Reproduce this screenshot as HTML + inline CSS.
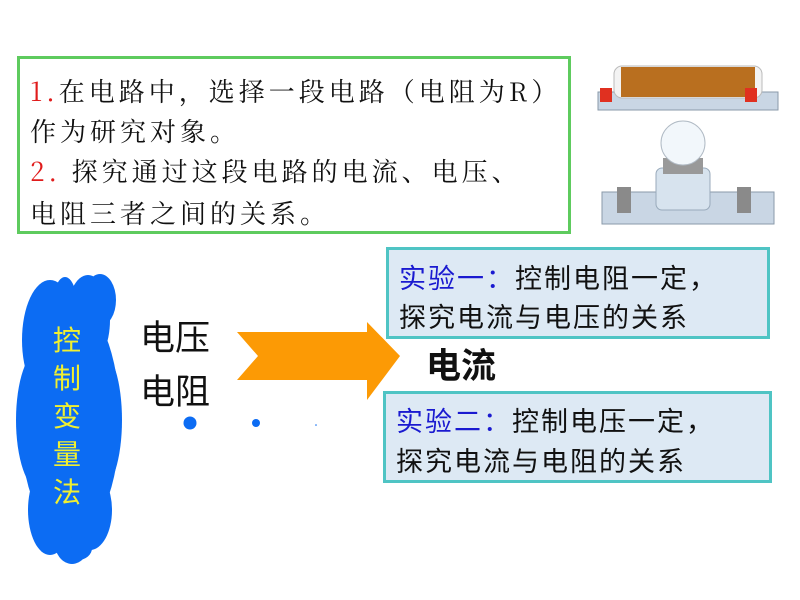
<!DOCTYPE html>
<html><head><meta charset="utf-8"><style>
body{margin:0;width:800px;height:600px;background:#fff;position:relative;overflow:hidden;font-family:"Liberation Sans","Noto Sans CJK SC",sans-serif}
.a{position:absolute;white-space:nowrap}
.box1{position:absolute;left:17px;top:56px;width:548px;height:172px;border:3px solid #5ecb5e}
.t{position:absolute;left:10px;font-size:26px;letter-spacing:4px;color:#111;font-family:"Noto Serif CJK SC","Liberation Serif",serif}
.r{color:#e01b1b}
.bx{position:absolute;border:3px solid #4fc4c4;background:#dde9f4}
.bx div{position:absolute;left:10px;font-size:27px;letter-spacing:2px;color:#111}
.bl{color:#1a1ad0}
</style></head><body>
<div class="box1">
<div class="t" style="top:13px"><span class="r">1.</span>在电路中，选择一段电路（电阻为R）</div>
<div class="t" style="top:53px">作为研究对象。</div>
<div class="t" style="top:93px"><span class="r">2.</span>&nbsp;探究通过这段电路的电流、电压、</div>
<div class="t" style="top:135px">电阻三者之间的关系。</div>
</div>

<svg class="a" style="left:0;top:0" width="800" height="600">
<g fill="#0c6cf3">
<ellipse cx="70" cy="420" rx="50" ry="120"/>
<ellipse cx="50" cy="340" rx="28" ry="60"/>
<ellipse cx="88" cy="320" rx="22" ry="45"/>
<ellipse cx="100" cy="300" rx="16" ry="26"/>
<ellipse cx="65" cy="305" rx="12" ry="28"/>
<ellipse cx="40" cy="420" rx="24" ry="70"/>
<ellipse cx="100" cy="420" rx="22" ry="70"/>
<ellipse cx="50" cy="510" rx="22" ry="45"/>
<ellipse cx="90" cy="510" rx="22" ry="40"/>
<ellipse cx="72" cy="540" rx="18" ry="24"/>
<ellipse cx="78" cy="548" rx="14" ry="12"/>
</g>
<path d="M237,332 L367,332 L367,322 L400,356 L367,400 L367,380 L237,380 L258,356 Z" fill="#fc9a05"/>
<circle cx="190" cy="423" r="6.5" fill="#0c6cf3"/>
<circle cx="256" cy="423" r="4" fill="#0c6cf3"/>
<circle cx="316" cy="425" r="0.8" fill="#0c6cf3"/>
<rect x="598" y="92" width="180" height="18" fill="#c9d6e4" stroke="#8a9aaa"/>
<rect x="614" y="66" width="148" height="32" rx="8" fill="#f3f3f3" stroke="#bbb"/>
<rect x="621" y="67" width="134" height="30" fill="#b96f1f"/>
<rect x="600" y="88" width="12" height="14" fill="#e03020"/>
<rect x="745" y="88" width="12" height="14" fill="#e03020"/>
<rect x="602" y="192" width="172" height="32" fill="#c9d6e4" stroke="#8a9aaa"/>
<rect x="656" y="168" width="54" height="42" rx="6" fill="#d7e3ee" stroke="#9ab"/>
<rect x="663" y="158" width="40" height="16" fill="#999"/>
<circle cx="683" cy="143" r="22" fill="#f2f7fb" stroke="#b0bac4"/>
<rect x="617" y="187" width="14" height="26" fill="#8a8a8a"/>
<rect x="737" y="187" width="14" height="26" fill="#8a8a8a"/>
</svg>

<div class="a" style="left:53px;top:322px;font-size:28px;line-height:38px;color:#f0f030;width:30px;white-space:normal">控制变量法</div>
<div class="a" style="left:140px;top:312px;font-size:35px;line-height:54px;color:#111;white-space:normal;width:80px">电压 电阻</div>

<div class="bx" style="left:386px;top:247px;width:378px;height:86px">
<div style="top:7px"><span class="bl">实验一：</span>控制电阻一定，</div>
<div style="top:46px">探究电流与电压的关系</div>
</div>
<div class="a" style="left:426px;top:338px;font-size:35px;font-weight:bold;color:#111">电流</div>
<div class="bx" style="left:383px;top:391px;width:383px;height:86px">
<div style="top:6px"><span class="bl">实验二：</span>控制电压一定，</div>
<div style="top:46px">探究电流与电阻的关系</div>
</div>
</body></html>
